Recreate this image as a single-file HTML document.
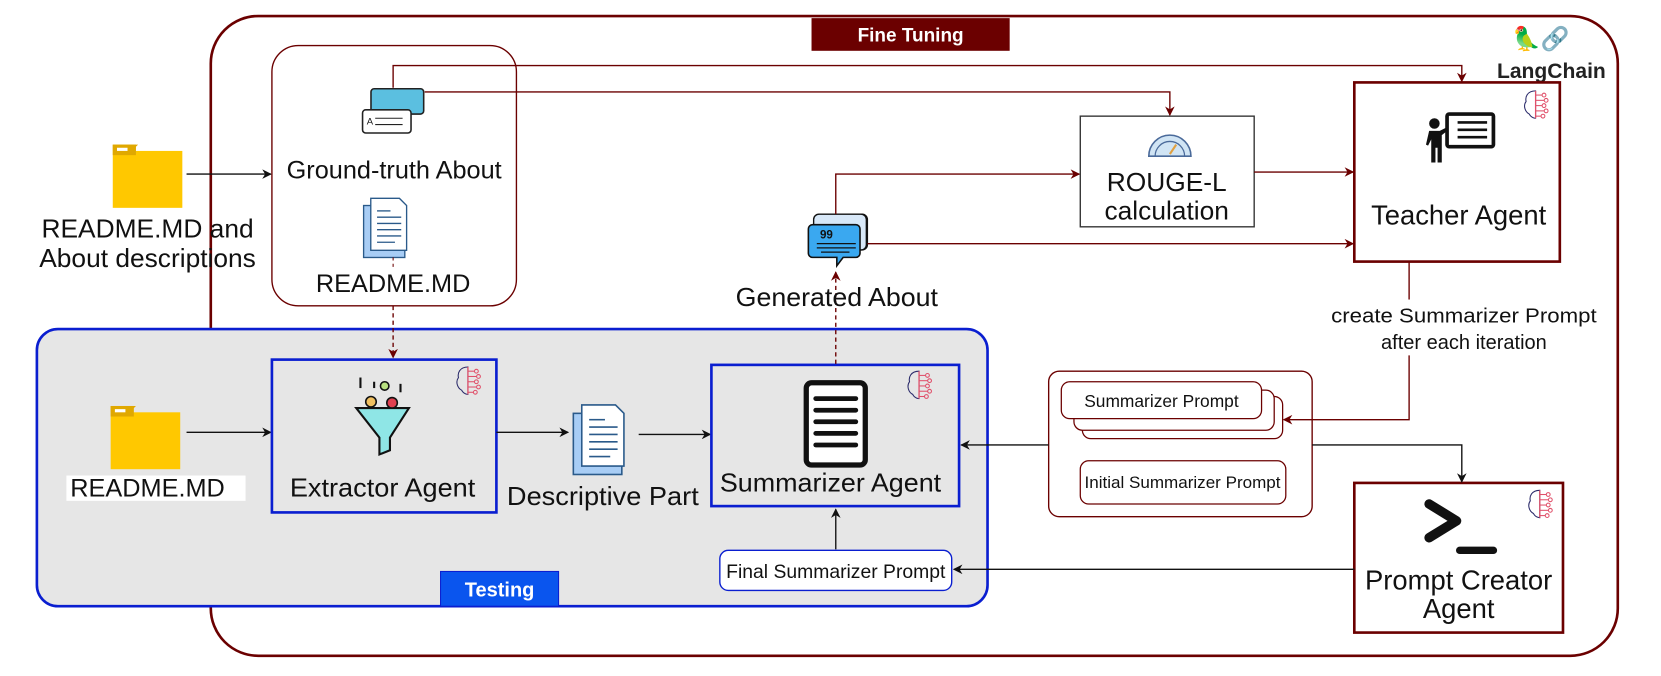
<!DOCTYPE html>
<html><head><meta charset="utf-8"><style>
html,body{margin:0;padding:0;background:#fff;}
svg{display:block;}
text{font-family:"Liberation Sans",Arial,sans-serif;fill:#111;}
</style></head><body>
<svg width="1661" height="676" viewBox="0 0 1576 641" xmlns="http://www.w3.org/2000/svg">
<defs>
<marker id="ar" viewBox="0 0 10 10" refX="9" refY="5" markerWidth="7" markerHeight="7" orient="auto"><path d="M0,0 L10,5 L0,10 L3,5z" fill="#6b0000"/></marker>
<marker id="ab" viewBox="0 0 10 10" refX="9" refY="5" markerWidth="7" markerHeight="7" orient="auto"><path d="M0,0 L10,5 L0,10 L3,5z" fill="#111"/></marker>
<g id="brain">
<path d="M12,2 C4,2 2,8 3,12 C0,16 2,22 6,24 C8,28 12,28 12,28 Z" fill="none" stroke="#2a2a6a" stroke-width="1"/>
<line x1="12" y1="2" x2="12" y2="28" stroke="#e0506a" stroke-width="1.2"/>
<g stroke="#e0506a" stroke-width="1" fill="none">
<path d="M12,6 h6"/><circle cx="20" cy="6" r="1.8"/><path d="M12,11 h8"/><circle cx="22" cy="11" r="1.8"/>
<path d="M12,16 h6"/><circle cx="20" cy="16" r="1.8"/><path d="M12,21 h8"/><circle cx="22" cy="21" r="1.8"/>
<path d="M12,26 h5"/><circle cx="19" cy="26" r="1.8"/></g>
</g>
<g id="folder">
<path d="M0,6 h18 l6,-6 h-24z" fill="#e0a800"/>
<rect x="0" y="6" width="66" height="54" fill="#ffc800"/>
<rect x="0" y="0" width="22" height="10" fill="#e0a800"/>
<rect x="4" y="3" width="10" height="3" fill="#fff"/>
</g>
<g id="doc">
<rect x="0" y="8" width="46" height="58" fill="#a8cdf5" stroke="#2a5a8a" stroke-width="1.5"/>
<path d="M8,0 h32 l8,8 v50 h-40z" fill="#fff" stroke="#2a5a8a" stroke-width="1.5"/>
<g stroke="#2a5a8a" stroke-width="1.5"><line x1="15" y1="14" x2="30" y2="14"/><line x1="15" y1="21" x2="42" y2="21"/><line x1="15" y1="28" x2="42" y2="28"/><line x1="15" y1="35" x2="42" y2="35"/><line x1="15" y1="42" x2="42" y2="42"/><line x1="15" y1="49" x2="35" y2="49"/></g>
</g>
</defs>

<!-- Fine Tuning box -->
<rect x="200" y="15" width="1335" height="607" rx="45" fill="none" stroke="#6b0000" stroke-width="2.5"/>
<rect x="770" y="17" width="188" height="31" fill="#6b0000"/>
<text x="864" y="39" text-anchor="middle" font-size="18" font-weight="bold" style="fill:#fff">Fine Tuning</text>
<text x="1462" y="44" text-anchor="middle" font-size="22">🦜🔗</text>
<text x="1472" y="74" text-anchor="middle" font-size="20" font-weight="bold" style="fill:#222">LangChain</text>

<!-- Ground-truth group -->
<rect x="258" y="43" width="232" height="247" rx="25" fill="#fff" stroke="#6b0000" stroke-width="1.3"/>
<g>
<rect x="352" y="84" width="50" height="24" rx="3" fill="#5bbfe0" stroke="#222" stroke-width="1.5"/>
<rect x="344" y="104" width="46" height="22" rx="3" fill="#fff" stroke="#222" stroke-width="1.5"/>
<line x1="356" y1="112" x2="382" y2="112" stroke="#222"/><line x1="356" y1="118" x2="382" y2="118" stroke="#222"/>
<text x="348" y="118" font-size="9">A</text>
</g>
<text x="374" y="169" text-anchor="middle" font-size="24">Ground-truth About</text>
<use href="#doc" x="345" y="188" transform="translate(345,188) scale(0.85) translate(-345,-188)"/>
<text x="373" y="277" text-anchor="middle" font-size="24">README.MD</text>
<line x1="373" y1="244" x2="373" y2="254" stroke="#6b0000" stroke-dasharray="3,3"/>

<!-- Left folder -->
<use href="#folder" x="107" y="137"/>
<text x="140" y="225" text-anchor="middle" font-size="25">README.MD and</text>
<text x="140" y="253" text-anchor="middle" font-size="25">About descriptions</text>
<line x1="177" y1="165" x2="257" y2="165" stroke="#111" stroke-width="1.3" marker-end="url(#ab)"/>

<!-- Testing box -->
<rect x="35" y="312" width="902" height="263" rx="20" fill="#e6e6e6" stroke="#0a1ed0" stroke-width="2.5"/>
<rect x="418" y="542" width="112" height="33" fill="#0a55ee" stroke="#0a1ed0" stroke-width="1"/>
<text x="474" y="566" text-anchor="middle" font-size="19" font-weight="bold" style="fill:#fff">Testing</text>

<use href="#folder" x="105" y="385"/>
<rect x="63" y="451" width="170" height="24" fill="#fff"/>
<text x="140" y="471" text-anchor="middle" font-size="24">README.MD</text>
<line x1="177" y1="410" x2="257" y2="410" stroke="#111" stroke-width="1.3" marker-end="url(#ab)"/>

<!-- Extractor -->
<rect x="258" y="341" width="213" height="145" fill="#e6e6e6" stroke="#0a1ed0" stroke-width="2.5"/>
<use href="#brain" x="432" y="346"/>
<g>
<path d="M338,387 h50 l-18,28 v12 l-10,4 v-16 z" fill="#8fe6e6" stroke="#111" stroke-width="2"/>
<circle cx="352" cy="381" r="5" fill="#f0c060" stroke="#111" stroke-width="1.5"/>
<circle cx="372" cy="382" r="5" fill="#e04050" stroke="#111" stroke-width="1.5"/>
<circle cx="365" cy="366" r="4" fill="#b8e080" stroke="#111" stroke-width="1.5"/>
<line x1="342" y1="358" x2="342" y2="368" stroke="#111" stroke-width="2"/>
<line x1="355" y1="362" x2="355" y2="368" stroke="#111" stroke-width="2"/>
<line x1="380" y1="364" x2="380" y2="372" stroke="#111" stroke-width="2"/>
</g>
<text x="363" y="471" text-anchor="middle" font-size="25" textLength="176" lengthAdjust="spacingAndGlyphs">Extractor Agent</text>
<line x1="471" y1="410" x2="539" y2="410" stroke="#111" stroke-width="1.3" marker-end="url(#ab)"/>

<use href="#doc" x="544" y="384"/>
<text x="572" y="479" text-anchor="middle" font-size="25" textLength="182" lengthAdjust="spacingAndGlyphs">Descriptive Part</text>
<line x1="606" y1="412" x2="674" y2="412" stroke="#111" stroke-width="1.3" marker-end="url(#ab)"/>

<!-- Summarizer -->
<rect x="675" y="346" width="235" height="134" fill="#e6e6e6" stroke="#0a1ed0" stroke-width="2.5"/>
<use href="#brain" x="860" y="350"/>
<rect x="765" y="363" width="56" height="78" rx="5" fill="#fff" stroke="#111" stroke-width="5"/>
<g stroke="#111" stroke-width="4.5" stroke-linecap="round"><line x1="774" y1="378" x2="812" y2="378"/><line x1="774" y1="389" x2="812" y2="389"/><line x1="774" y1="400" x2="812" y2="400"/><line x1="774" y1="411" x2="812" y2="411"/><line x1="774" y1="422" x2="812" y2="422"/></g>
<text x="788" y="466" text-anchor="middle" font-size="25" textLength="210" lengthAdjust="spacingAndGlyphs">Summarizer Agent</text>

<!-- Final prompt -->
<rect x="683" y="522" width="220" height="38" rx="8" fill="#fff" stroke="#0a1ed0" stroke-width="1.3"/>
<text x="793" y="548" text-anchor="middle" font-size="18" textLength="208" lengthAdjust="spacingAndGlyphs">Final Summarizer Prompt</text>
<line x1="793" y1="521" x2="793" y2="483" stroke="#111" stroke-width="1.3" marker-end="url(#ab)"/>

<!-- dashed arrows -->
<line x1="373" y1="290" x2="373" y2="339" stroke="#6b0000" stroke-width="1.3" stroke-dasharray="4,3" marker-end="url(#ar)"/>
<line x1="793" y1="345" x2="793" y2="258" stroke="#6b0000" stroke-width="1.3" stroke-dasharray="4,3" marker-end="url(#ar)"/>

<!-- Generated About icon -->
<rect x="806" y="203" width="17" height="34" rx="5" fill="#d8e8f8" stroke="#111" stroke-width="1.3"/>
<rect x="772" y="203" width="50" height="34" rx="5" fill="#d8e8f8" stroke="#111" stroke-width="1.3"/>
<path d="M771,213 h41 a4,4 0 0 1 4,4 v23 a4,4 0 0 1 -4,4 h-12 l-6,8 v-8 h-23 a4,4 0 0 1 -4,-4 v-23 a4,4 0 0 1 4,-4z" fill="#3aa8f0" stroke="#111" stroke-width="1.5"/>
<text x="778" y="226" font-size="11" font-weight="bold">99</text>
<g stroke="#111" stroke-width="1.2"><line x1="775" y1="231" x2="812" y2="231"/><line x1="775" y1="235" x2="812" y2="235"/><line x1="779" y1="239" x2="806" y2="239"/></g>
<text x="794" y="290" text-anchor="middle" font-size="25" textLength="192" lengthAdjust="spacingAndGlyphs">Generated About</text>

<!-- ROUGE -->
<rect x="1025" y="110" width="165" height="105" fill="#fff" stroke="#333" stroke-width="1.3"/>
<path d="M1090,148 a20,20 0 0 1 40,0 z" fill="#d0e4f4" stroke="#4a6a9a" stroke-width="1.5"/>
<path d="M1096,148 a14,14 0 0 1 28,0" fill="none" stroke="#4a6a9a" stroke-width="1.2"/>
<line x1="1110" y1="146" x2="1116" y2="137" stroke="#e0a040" stroke-width="2"/>
<text x="1107" y="181" text-anchor="middle" font-size="25">ROUGE-L</text>
<text x="1107" y="208" text-anchor="middle" font-size="25">calculation</text>

<!-- Teacher -->
<rect x="1285" y="78" width="195" height="170" fill="#fff" stroke="#6b0000" stroke-width="2.5"/>
<use href="#brain" x="1445" y="84"/>
<g>
<circle cx="1361" cy="117" r="5" fill="#111"/>
<path d="M1356,124 h10 l10,-5 l1,2 l-9,7 v26 h-4 v-14 h-2 v14 h-4 v-22 l-3,6 l-2,-1z" fill="#111"/>
<rect x="1373" y="108" width="44" height="31" rx="2" fill="#fff" stroke="#111" stroke-width="3.5"/>
<g stroke="#111" stroke-width="2.5"><line x1="1383" y1="116" x2="1411" y2="116"/><line x1="1383" y1="123" x2="1411" y2="123"/><line x1="1383" y1="130" x2="1411" y2="130"/></g>
</g>
<text x="1384" y="213" text-anchor="middle" font-size="26">Teacher Agent</text>

<!-- Prompts group -->
<rect x="995" y="352" width="250" height="138" rx="10" fill="#fff" stroke="#6b0000" stroke-width="1.3"/>
<rect x="1027" y="376" width="190" height="40" rx="8" fill="#fff" stroke="#6b0000" stroke-width="1.2"/>
<rect x="1019" y="370" width="190" height="38" rx="8" fill="#fff" stroke="#6b0000" stroke-width="1.2"/>
<rect x="1007" y="362" width="190" height="35" rx="8" fill="#fff" stroke="#6b0000" stroke-width="1.2"/>
<text x="1102" y="386" text-anchor="middle" font-size="16.5">Summarizer Prompt</text>
<rect x="1025" y="437" width="195" height="41" rx="8" fill="#fff" stroke="#6b0000" stroke-width="1.2"/>
<text x="1122" y="463" text-anchor="middle" font-size="16" textLength="186" lengthAdjust="spacingAndGlyphs">Initial Summarizer Prompt</text>

<!-- Prompt Creator -->
<rect x="1285" y="458" width="198" height="142" fill="#fff" stroke="#6b0000" stroke-width="2.5"/>
<use href="#brain" x="1449" y="463"/>
<path d="M1356,478 L1382,494 L1356,510" fill="none" stroke="#111" stroke-width="9" stroke-linecap="round" stroke-linejoin="round"/>
<line x1="1385" y1="522" x2="1417" y2="522" stroke="#111" stroke-width="7" stroke-linecap="round"/>
<text x="1384" y="559" text-anchor="middle" font-size="26">Prompt Creator</text>
<text x="1384" y="586" text-anchor="middle" font-size="26">Agent</text>

<!-- connectors -->
<polyline points="373,83 373,62 1387,62 1387,77" fill="none" stroke="#6b0000" stroke-width="1.3" marker-end="url(#ar)"/>
<polyline points="403,87 1110,87 1110,109" fill="none" stroke="#6b0000" stroke-width="1.3" marker-end="url(#ar)"/>
<polyline points="793,203 793,165 1024,165" fill="none" stroke="#6b0000" stroke-width="1.3" marker-end="url(#ar)"/>
<line x1="1190" y1="163" x2="1284" y2="163" stroke="#6b0000" stroke-width="1.3" marker-end="url(#ar)"/>
<line x1="823" y1="231" x2="1284" y2="231" stroke="#6b0000" stroke-width="1.3" marker-end="url(#ar)"/>
<line x1="1337" y1="248" x2="1337" y2="284" stroke="#6b0000" stroke-width="1.3"/>
<text x="1389" y="306" text-anchor="middle" font-size="19" textLength="252" lengthAdjust="spacingAndGlyphs">create Summarizer Prompt</text>
<text x="1389" y="331" text-anchor="middle" font-size="19">after each iteration</text>
<polyline points="1337,337 1337,398 1218,398" fill="none" stroke="#6b0000" stroke-width="1.3" marker-end="url(#ar)"/>
<line x1="995" y1="422" x2="912" y2="422" stroke="#111" stroke-width="1.3" marker-end="url(#ab)"/>
<polyline points="1245,422 1387,422 1387,457" fill="none" stroke="#111" stroke-width="1.3" marker-end="url(#ab)"/>
<line x1="1285" y1="540" x2="905" y2="540" stroke="#111" stroke-width="1.3" marker-end="url(#ab)"/>
</svg>
</body></html>
